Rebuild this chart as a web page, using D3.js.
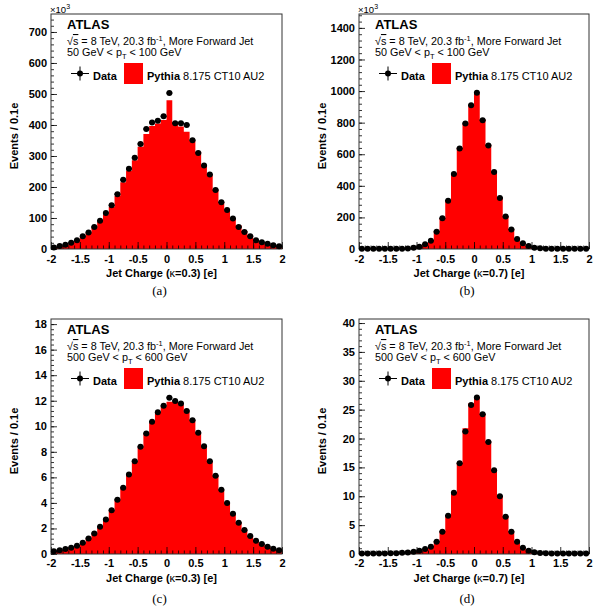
<!DOCTYPE html>
<html>
<head>
<meta charset="utf-8">
<title>Jet charge, more forward jet</title>
<script src="https://cdn.jsdelivr.net/npm/d3@7/dist/d3.min.js"></script>
<style>
  body { margin: 0; background: #fff; }
  text { font-family: "Liberation Sans", Arial, Helvetica, sans-serif; fill: #000; }
  .caption { font-family: "Liberation Serif", "Times New Roman", serif; }
</style>
</head>
<body>
<svg id="chart" width="598" height="606"></svg>
<script>
// 40 bins of 0.1 e between -2 and 2
var binLow = d3.range(40).map(i => (i - 20) / 10);

// (a) 50-100 GeV, kappa = 0.3  (units of 10^3)
var dataA = [5, 10, 14, 20, 28, 41, 53, 71, 91, 116, 141, 177, 223, 259, 294, 339, 387, 408, 414, 428,
             503, 406, 406, 400, 351, 310, 269, 240, 190, 151, 126, 98, 71, 55, 41, 28, 22, 17, 12, 9];
var mcA   = [5, 9, 13, 19, 27, 39, 52, 69, 89, 112, 136, 171, 215, 252, 286, 330, 371, 397, 405, 416,
             480, 408, 395, 378, 348, 314, 272, 238, 192, 152, 124, 100, 77, 58, 44, 30, 22, 17, 12, 9];

// (b) 50-100 GeV, kappa = 0.7  (units of 10^3)
var dataB = [1, 1, 1, 1, 1, 1, 1, 2, 3, 8, 15, 30, 53, 110, 194, 306, 475, 637, 795, 911,
             989, 816, 656, 487, 323, 205, 124, 63, 36, 19, 8, 4, 2, 1, 1, 1, 1, 1, 1, 1];
var mcB   = [1, 1, 1, 1, 1, 1, 1, 2, 3, 8, 16, 31, 55, 112, 197, 308, 478, 640, 792, 905,
             982, 820, 660, 490, 326, 207, 126, 64, 37, 19, 8, 4, 2, 1, 1, 1, 1, 1, 1, 1];

// (c) 500-600 GeV, kappa = 0.3
var dataC = [0.22, 0.30, 0.39, 0.49, 0.65, 0.88, 1.22, 1.61, 2.13, 2.70, 3.42, 4.25, 5.19, 6.23, 7.26, 8.40,
             9.44, 10.35, 11.10, 11.60, 12.24, 11.98, 11.78, 11.20, 10.48, 9.49, 8.43, 7.26, 6.12, 5.03,
             3.99, 3.16, 2.44, 1.87, 1.40, 1.04, 0.78, 0.57, 0.42, 0.30];
var mcC   = [0.22, 0.30, 0.38, 0.48, 0.63, 0.86, 1.18, 1.57, 2.08, 2.66, 3.38, 4.20, 5.14, 6.18, 7.22, 8.36,
             9.40, 10.30, 11.05, 11.55, 11.93, 11.90, 11.70, 11.15, 10.45, 9.47, 8.42, 7.25, 6.12, 5.03,
             4.00, 3.17, 2.45, 1.88, 1.41, 1.05, 0.79, 0.58, 0.43, 0.31];

// (d) 500-600 GeV, kappa = 0.7
var dataD = [0.1, 0.1, 0.1, 0.1, 0.1, 0.12, 0.15, 0.2, 0.28, 0.4, 0.55, 0.86, 1.27, 2.13, 3.86, 6.63,
             10.6, 15.7, 21.2, 25.8, 27.1, 24.2, 19.4, 14.5, 10.0, 6.46, 3.86, 2.13, 1.1, 0.58,
             0.3, 0.18, 0.12, 0.1, 0.1, 0.1, 0.1, 0.1, 0.1, 0.1];
var mcD   = [0.1, 0.1, 0.1, 0.1, 0.1, 0.12, 0.15, 0.2, 0.28, 0.4, 0.56, 0.88, 1.3, 2.2, 3.95, 6.7,
             10.7, 15.8, 21.8, 26.1, 27.2, 24.3, 19.5, 14.6, 10.1, 6.5, 3.9, 2.15, 1.12, 0.6,
             0.3, 0.18, 0.12, 0.1, 0.1, 0.1, 0.1, 0.1, 0.1, 0.1];

var xTicks = [-2, -1.5, -1, -0.5, 0, 0.5, 1, 1.5, 2];
var xMinor = d3.range(41).map(i => (i - 20) / 10);
var yTicksA = [0, 100, 200, 300, 400, 500, 600, 700];
var yTicksB = [0, 200, 400, 600, 800, 1000, 1200, 1400];
var yTicksC = [0, 2, 4, 6, 8, 10, 12, 14, 16, 18];
var yTicksD = [0, 5, 10, 15, 20, 25, 30, 35, 40];

var panels = [
  { data: dataA, mc: mcA, yMax: 758, yTicks: yTicksA, minorStep: 20, x10: true, kappa: '0.3', ptLo: '50', ptHi: '100',
    left: 51, right: 282, top: 14, bottom: 249, caption: '(a)' },
  { data: dataB, mc: mcB, yMax: 1488, yTicks: yTicksB, minorStep: 40, x10: true, kappa: '0.7', ptLo: '50', ptHi: '100',
    left: 359, right: 589, top: 14, bottom: 249, caption: '(b)' },
  { data: dataC, mc: mcC, yMax: 18.4, yTicks: yTicksC, minorStep: 0.4, x10: false, kappa: '0.3', ptLo: '500', ptHi: '600',
    left: 51, right: 282, top: 319, bottom: 554, caption: '(c)' },
  { data: dataD, mc: mcD, yMax: 40.7, yTicks: yTicksD, minorStep: 1, x10: false, kappa: '0.7', ptLo: '500', ptHi: '600',
    left: 359, right: 589, top: 319, bottom: 554, caption: '(d)' }
];

var svg = d3.select('#chart');
svg.append('rect').attr('width', 598).attr('height', 606).attr('fill', '#fff');

panels.forEach(p => {
  var g = svg.append('g');
  var x = d3.scaleLinear().domain([-2, 2]).range([p.left, p.right]);
  var y = d3.scaleLinear().domain([0, p.yMax]).range([p.bottom, p.top]);

  // MC histogram as a filled step area
  var steps = binLow.map((lo, i) => ({ lo: lo, v: p.mc[i] }));
  steps.push({ lo: 2, v: p.mc[p.mc.length - 1] });
  var area = d3.area()
    .x(d => x(d.lo))
    .y0(y(0))
    .y1(d => y(d.v))
    .curve(d3.curveStepAfter);
  g.append('path').datum(steps).attr('d', area).attr('fill', '#ff0000');

  // axes, ticks pointing into the frame
  var xMajor = d3.axisBottom(x).tickValues(xTicks).tickSize(-7).tickPadding(p.top > 100 ? 5.5 : 6)
    .tickFormat(d => String(d));
  var xm = d3.axisBottom(x).tickValues(xMinor).tickSize(-3.5).tickFormat('');
  var minors = d3.range(0, p.yMax, p.minorStep);
  var yMajor = d3.axisLeft(y).tickValues(p.yTicks).tickSize(-6).tickPadding(4).tickFormat(d => String(d));
  var ym = d3.axisLeft(y).tickValues(minors).tickSize(-3).tickFormat('');

  [[xm, 'x'], [xMajor, 'x'], [ym, 'y'], [yMajor, 'y']].forEach(a => {
    var ax = g.append('g')
      .attr('transform', a[1] === 'x' ? 'translate(0,' + p.bottom + ')' : 'translate(' + p.left + ',0)')
      .call(a[0]);
    ax.select('.domain').remove();
    ax.selectAll('line').attr('stroke', '#000').attr('stroke-width', 0.8);
    ax.selectAll('text').attr('font-size', 11).attr('font-weight', 'bold')
      .attr('font-family', '"Liberation Sans", Arial, sans-serif').attr('fill', '#000');
  });

  // frame
  g.append('rect')
    .attr('x', p.left).attr('y', p.top)
    .attr('width', p.right - p.left).attr('height', p.bottom - p.top)
    .attr('fill', 'none').attr('stroke', '#333').attr('stroke-width', 1);

  // data points
  var pts = g.append('g');
  binLow.forEach((lo, i) => {
    var cy = y(p.data[i]);
    pts.append('line')
      .attr('x1', x(lo)).attr('x2', x(lo + 0.1))
      .attr('y1', cy).attr('y2', cy)
      .attr('stroke', '#000').attr('stroke-width', 1.6);
    pts.append('circle')
      .attr('cx', x(lo + 0.05)).attr('cy', cy).attr('r', 3)
      .attr('fill', '#000');
  });

  // axis titles
  var xt = g.append('text')
    .attr('x', (p.left + p.right) / 2 - 5).attr('y', p.bottom + 27.5)
    .attr('text-anchor', 'middle').attr('font-size', 11).attr('font-weight', 'bold');
  xt.append('tspan').text('Jet Charge (');
  xt.append('tspan').attr('font-weight', 'normal').text('\u03ba');
  xt.append('tspan').text('=' + p.kappa + ') [e]');

  g.append('text')
    .attr('transform', 'translate(' + (p.left - 33) + ',' + ((p.top + p.bottom) / 2 + 4.5) + ') rotate(-90)')
    .attr('text-anchor', 'middle').attr('font-size', 11).attr('font-weight', 'bold')
    .text('Events / 0.1e');

  if (p.x10) {
    var t = g.append('text').attr('x', p.left - 1).attr('y', p.top - 1).attr('font-size', 9.5);
    t.append('tspan').text('\u00d710');
    t.append('tspan').attr('font-size', 7).attr('dy', -4).text('3');
  }

  // labels inside the frame
  var lx = p.left + 16;
  g.append('text').attr('x', lx).attr('y', p.top + 15)
    .attr('font-size', 13).attr('font-weight', 'bold').text('ATLAS');

  var l2 = g.append('text').attr('x', lx).attr('y', p.top + 31).attr('font-size', 10.8);
  l2.append('tspan').text('\u221a');
  l2.append('tspan').attr('text-decoration', 'overline').text('s');
  l2.append('tspan').text(' = 8 TeV, 20.3 fb');
  l2.append('tspan').attr('font-size', 7.5).attr('dy', -4).text('-1');
  l2.append('tspan').attr('dy', 4).text(', More Forward Jet');

  var l3 = g.append('text').attr('x', lx).attr('y', p.top + 42).attr('font-size', 10.8);
  l3.append('tspan').text(p.ptLo + ' GeV < p');
  l3.append('tspan').attr('font-size', 7.5).attr('dy', 3).text('T');
  l3.append('tspan').attr('dy', -3).text(' < ' + p.ptHi + ' GeV');

  // legend
  var my = p.top + 59.5;
  g.append('line').attr('x1', p.left + 20).attr('x2', p.left + 38).attr('y1', my).attr('y2', my)
    .attr('stroke', '#000').attr('stroke-width', 1);
  g.append('line').attr('x1', p.left + 29).attr('x2', p.left + 29).attr('y1', my - 7).attr('y2', my + 7)
    .attr('stroke', '#000').attr('stroke-width', 1);
  g.append('circle').attr('cx', p.left + 29).attr('cy', my).attr('r', 3).attr('fill', '#000');
  g.append('text').attr('x', p.left + 42).attr('y', p.top + 66)
    .attr('font-size', 11).attr('font-weight', 'bold').text('Data');
  g.append('rect').attr('x', p.left + 73).attr('y', p.top + 49).attr('width', 19).attr('height', 21)
    .attr('fill', '#ff0000');
  var lp = g.append('text').attr('x', p.left + 96).attr('y', p.top + 66).attr('font-size', 11);
  lp.append('tspan').attr('font-weight', 'bold').text('Pythia');
  lp.append('tspan').text(' 8.175 CT10 AU2');

  // sub-figure caption
  svg.append('text').attr('class', 'caption')
    .attr('x', (p.left + p.right) / 2 - 7).attr('y', p.bottom + (p.top > 100 ? 49 : 46))
    .attr('text-anchor', 'middle').attr('font-size', 13)
    .text(p.caption);
});
</script>
</body>
</html>
